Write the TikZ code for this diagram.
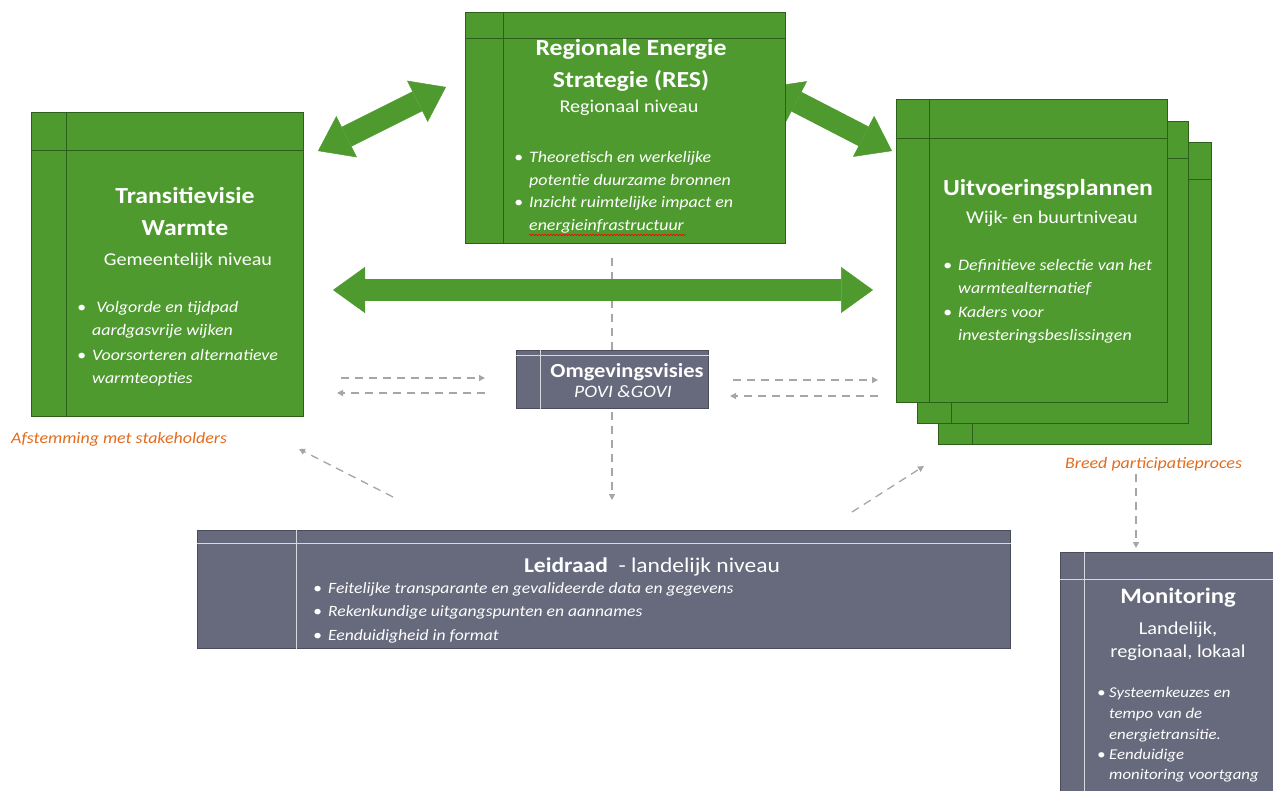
\documentclass[tikz,border=0pt]{standalone}
\usepackage{fontspec}
\setmainfont{Carlito}[FakeStretch=1.12]
\usetikzlibrary{arrows.meta,decorations.pathmorphing}
\definecolor{gfill}{HTML}{4E9A2F}
\definecolor{gdark}{HTML}{2C5F1A}
\definecolor{sfill}{HTML}{676A7C}
\definecolor{sdark}{HTML}{4A4C5A}
\definecolor{sline}{HTML}{D8D9DE}
\definecolor{dgray}{HTML}{A6A6A6}
\definecolor{orng}{HTML}{E36C1E}
\newcommand{\boxlines}[4]{%
  \draw[#4] ([xshift=#2]#1.north west) -- ([xshift=#2]#1.south west);
  \draw[#4] ([yshift=-#3]#1.north west) -- ([yshift=-#3]#1.north east);}
\newcommand{\bl}{\makebox[15pt][l]{\textbullet}}
\newcommand{\ind}{\hspace*{15pt}}
\begin{document}
\begin{tikzpicture}[x=1pt,y=-1pt,
  gbox/.style={draw=gdark, fill=gfill, line width=0.8pt, anchor=north west, inner sep=0pt},
  sbox/.style={draw=sdark, fill=sfill, line width=0.8pt, anchor=north west, inner sep=0pt},
  gl/.style={draw=gdark, line width=0.8pt},
  sl/.style={draw=sline, line width=0.8pt},
  ttl/.style={text=white, font=\bfseries\fontsize{23}{32}\selectfont, align=center, anchor=base, inner sep=0pt},
  sub/.style={text=white, font=\fontsize{18}{28}\selectfont, align=center, anchor=base, inner sep=0pt},
  itm/.style={text=white, font=\itshape\fontsize{16}{23}\selectfont, align=left, anchor=base west, inner sep=0pt},
  blk/.style={draw=gfill, line width=22pt, arrows={Triangle[length=32pt,width=46pt,line width=0.5pt]-Triangle[length=32pt,width=46pt,line width=0.5pt]}},
  dsh/.style={draw=dgray, line width=1.3pt, dash pattern=on 8pt off 6pt, arrows={-Triangle[length=6pt,width=6pt]}},
  lbl/.style={text=orng, font=\itshape\fontsize{16}{18}\selectfont, anchor=base west, inner sep=0pt}]
\useasboundingbox[fill=white] (0,0) rectangle (1273,790);

% dashed connectors (drawn first, boxes on top)
\coordinate (vA) at (612,258);
\coordinate (vB) at (612,500);
\draw[dsh] (vA) -- (vB);
\coordinate (l1a) at (341,378); \coordinate (l1b) at (485,378);
\coordinate (l2a) at (485,393); \coordinate (l2b) at (337,393);
\coordinate (r1a) at (733,380); \coordinate (r1b) at (878,380);
\coordinate (r2a) at (878,396); \coordinate (r2b) at (730,396);
\draw[dsh] (l1a) -- (l1b);
\draw[dsh] (l2a) -- (l2b);
\draw[dsh] (r1a) -- (r1b);
\draw[dsh] (r2a) -- (r2b);
\coordinate (dlA) at (393,497); \coordinate (dlB) at (299,449);
\coordinate (drA) at (852,512); \coordinate (drB) at (924,466);
\draw[dsh] (dlA) -- (dlB);
\draw[dsh] (drA) -- (drB);
\coordinate (mA) at (1136,474); \coordinate (mB) at (1136,548);
\draw[dsh] (mA) -- (mB);

% block arrows
\coordinate (b1a) at (318,151); \coordinate (b1b) at (446,87);
\coordinate (b2a) at (768,87);  \coordinate (b2b) at (892,151);
\coordinate (b3a) at (333,290); \coordinate (b3b) at (873,290);
\draw[blk] (b1a) -- (b1b);
\draw[blk] (b2a) -- (b2b);
\draw[blk] (b3a) -- (b3b);

% RES
\node[gbox, minimum width=320pt, minimum height=231pt] (res) at (465,12) {};
\boxlines{res}{38pt}{26pt}{gl}
\node[ttl] (resT) at (631,87) {Regionale Energie\\Strategie (RES)};
\node[sub] (resS) at (629,112) {Regionaal niveau};
\node[itm] (resI1) at (514,185) {\bl Theoretisch en werkelijke\\\ind potentie duurzame bronnen};
\node[itm] (resI2) at (514,230) {\bl Inzicht ruimtelijke impact en\\\ind energieinfrastructuur};
\draw[red, line width=0.6pt, decorate, decoration={snake, amplitude=0.8pt, segment length=3pt}]
  ([xshift=15pt,yshift=-2pt]resI2.south west) -- ([xshift=172pt,yshift=-2pt]resI2.south west);

% Transitievisie Warmte
\node[gbox, minimum width=272pt, minimum height=304pt] (tvw) at (31,112) {};
\boxlines{tvw}{35pt}{38pt}{gl}
\node[ttl] (tvwT) at (185,235) {Transitievisie\\Warmte};
\node[sub] (tvwS) at (188,265) {Gemeentelijk niveau};
\node[itm] (tvwI1) at (77,335) {\bl\ Volgorde en tijdpad\\\ind aardgasvrije wijken};
\node[itm] (tvwI2) at (77,383) {\bl Voorsorteren alternatieve\\\ind warmteopties};

% Uitvoeringsplannen (stack)
\node[gbox, minimum width=273pt, minimum height=302pt] (up3) at (938,142) {};
\boxlines{up3}{34pt}{37pt}{gl}
\node[gbox, minimum width=271pt, minimum height=302pt] (up2) at (917,121) {};
\boxlines{up2}{34pt}{37pt}{gl}
\node[gbox, minimum width=271pt, minimum height=303pt] (up1) at (896,99) {};
\boxlines{up1}{33pt}{39pt}{gl}
\node[ttl] (upT) at (1048,195) {Uitvoeringsplannen};
\node[sub] (upS) at (1052,223) {Wijk- en buurtniveau};
\node[itm] (upI1) at (943,293) {\bl Definitieve selectie van het\\\ind warmtealternatief};
\node[itm] (upI2) at (943,340) {\bl Kaders voor\\\ind investeringsbeslissingen};

% Omgevingsvisies
\node[sbox, minimum width=192pt, minimum height=58pt] (ov) at (516,350) {};
\boxlines{ov}{24pt}{5pt}{sl}
\node[text=white, font=\bfseries\fontsize{20}{22}\selectfont, anchor=base, inner sep=0pt] (ovT) at (627,377) {Omgevingsvisies};
\node[text=white, font=\itshape\fontsize{17.5}{20}\selectfont, anchor=base, inner sep=0pt] (ovS) at (623,397) {POVI \&GOVI};

% Leidraad
\node[sbox, minimum width=813pt, minimum height=118pt] (ld) at (197,530) {};
\boxlines{ld}{99pt}{13pt}{sl}
\node[text=white, font=\fontsize{21}{26}\selectfont, anchor=base, inner sep=0pt] (ldT) at (652,572) {\textbf{Leidraad}\ \ - landelijk niveau};
\node[itm, font=\itshape\fontsize{15.7}{23.5}\selectfont] (ldI) at (313,640) {\bl Feitelijke transparante en gevalideerde data en gegevens\\\bl Rekenkundige uitgangspunten en aannames\\\bl Eenduidigheid in format};

% Monitoring
\node[sbox, minimum width=213pt, minimum height=245pt] (mon) at (1060,552) {};
\boxlines{mon}{24pt}{27pt}{sl}
\node[ttl, font=\bfseries\fontsize{22}{28}\selectfont] (monT) at (1178,603) {Monitoring};
\node[text=white, font=\fontsize{18.2}{23}\selectfont, align=center, anchor=base, inner sep=0pt] (monS) at (1178,657) {Landelijk,\\regionaal, lokaal};
\node[itm, font=\itshape\fontsize{15}{21}\selectfont] (monI1) at (1097,739) {\makebox[12pt][l]{\textbullet}Systeemkeuzes en\\\hspace*{12pt}tempo van de\\\hspace*{12pt}energietransitie.};
\node[itm, font=\itshape\fontsize{15}{19.5}\selectfont] (monI2) at (1097,779) {\makebox[12pt][l]{\textbullet}Eenduidige\\\hspace*{12pt}monitoring voortgang};

% orange labels
\node[lbl] (lab1) at (11,443) {Afstemming met stakeholders};
\node[lbl] (lab2) at (1065,468) {Breed participatieproces};
\end{tikzpicture}
\end{document}
